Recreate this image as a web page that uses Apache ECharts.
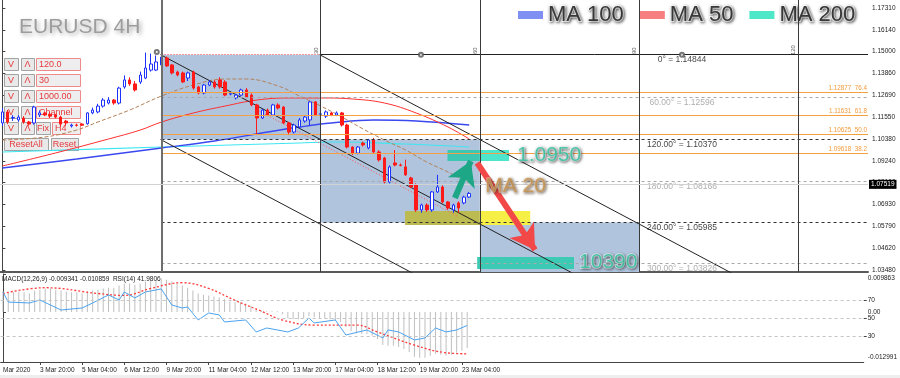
<!DOCTYPE html>
<html><head><meta charset="utf-8">
<script src="https://cdn.jsdelivr.net/npm/echarts@6/dist/echarts.min.js"></script>
<style>html,body{margin:0;padding:0;background:#fff}#c{width:900px;height:378px}</style>
</head><body><div id="c"></div>
<script>
// ---------- DATA ----------
const opens = [1.1124,1.1182,1.1150,1.1140,1.1150,1.1129,1.1124,1.1166,1.1177,1.1170,
1.1166,1.1155,1.1134,1.1108,1.1113,1.1118,1.1120,1.1177,1.1182,1.1213,
1.1229,1.1245,1.1229,1.1314,1.1351,1.1330,1.1340,1.1361,1.1403,1.1403,
1.1430,1.1467,1.1430,1.1393,1.1388,1.1361,1.1393,1.1314,1.1282,1.1324,
1.1340,1.1351,1.1340,1.1276,1.1256,1.1271,1.1298,1.1271,1.1219,1.1150,
1.1192,1.1166,1.1219,1.1208,1.1124,1.1076,1.1103,1.1134,1.1140,1.1235,
1.1170,1.1160,1.1177,1.1166,1.1177,1.1113,1.0997,1.0965,1.1018,1.0992,
1.1034,1.0971,1.0939,1.0812,1.0913,1.0902,1.0892,1.0834,1.0797,1.0665,
1.0691,1.0665,1.0760,1.0786,1.0707,1.0665,1.0702,1.0702,1.0733];
const closes = [1.1182,1.1129,1.1153,1.1155,1.1129,1.1118,1.1208,1.1177,1.1166,1.1160,
1.1155,1.1118,1.1124,1.1113,1.1112,1.1112,1.1177,1.1192,1.1213,1.1245,
1.1245,1.1229,1.1308,1.1351,1.1330,1.1298,1.1377,1.1414,1.1435,1.1446,
1.1472,1.1425,1.1388,1.1377,1.1340,1.1388,1.1308,1.1282,1.1324,1.1340,
1.1314,1.1314,1.1271,1.1278,1.1271,1.1298,1.1261,1.1219,1.1150,1.1192,
1.1166,1.1219,1.1203,1.1124,1.1076,1.1113,1.1140,1.1155,1.1235,1.1166,
1.1172,1.1182,1.1166,1.1177,1.1113,1.0997,1.0965,1.0997,1.1008,1.1034,
1.0971,1.0929,1.0812,1.0892,1.0902,1.0900,1.0850,1.0786,1.0665,1.0691,
1.0665,1.0760,1.0786,1.0707,1.0675,1.0691,1.0675,1.0733,1.07519];
const lows = [1.1108,1.1118,1.1135,1.1130,1.1120,1.1110,1.1115,1.1155,1.1160,1.1150,
1.1148,1.1105,1.1110,1.1100,1.1105,1.1108,1.1115,1.1170,1.1175,1.1205,
1.1222,1.1220,1.1222,1.1305,1.1320,1.1290,1.1330,1.1355,1.1395,1.1398,
1.1420,1.1420,1.1380,1.1370,1.1335,1.1345,1.1300,1.1275,1.1275,1.1318,
1.1305,1.1305,1.1265,1.1270,1.1248,1.1265,1.1255,1.1212,1.1060,1.1145,
1.1160,1.1160,1.1195,1.1118,1.1060,1.1068,1.1095,1.1125,1.1110,1.1160,
1.1160,1.1150,1.1160,1.1160,1.1105,1.0990,1.0955,1.0958,1.1000,1.0985,
1.0965,1.0920,1.0805,1.0805,1.0895,1.0895,1.0845,1.0780,1.0655,1.0650,
1.0655,1.0655,1.0755,1.0700,1.0665,1.0650,1.0650,1.0695,1.0728];
const highs = [1.1203,1.1192,1.1165,1.1165,1.1160,1.1135,1.1215,1.1190,1.1185,1.1180,
1.1172,1.1162,1.1140,1.1120,1.1120,1.1122,1.1180,1.1205,1.1225,1.1255,
1.1260,1.1250,1.1315,1.1375,1.1365,1.1345,1.1395,1.1495,1.1490,1.1480,
1.14844,1.1475,1.1435,1.1400,1.1395,1.1395,1.1400,1.1320,1.1330,1.1350,
1.1350,1.1365,1.1350,1.1285,1.1278,1.1305,1.1308,1.1280,1.1225,1.1198,
1.1200,1.1225,1.1228,1.1213,1.1130,1.1120,1.1150,1.1165,1.1240,1.1240,
1.1180,1.1190,1.1182,1.1185,1.1182,1.1120,1.1000,1.1002,1.1025,1.1040,
1.1045,1.0980,1.0945,1.0900,1.0981,1.0910,1.0930,1.0840,1.0805,1.0698,
1.0700,1.0765,1.0850,1.0795,1.0712,1.0698,1.0710,1.0740,1.0760];

// moving averages read at sample bars
const ma20Bars = [0,8,14,18,24,30,36,42,46,52,56,60,64,68,72,76,80,84,88];
const ma20Vals = [1.10340,1.10498,1.10868,1.11290,1.11923,1.12662,1.13243,1.13559,1.13559,1.13190,1.12662,1.12134,1.11554,1.10921,1.10340,1.09813,1.09179,1.08651,1.08071];
const ma50Bars = [0,10,20,26,30,36,42,48,54,60,66,72,78,84,88];
const ma50Vals = [1.08968,1.09654,1.10393,1.10867,1.11290,1.11765,1.12134,1.12451,1.12557,1.12557,1.12504,1.12293,1.11765,1.11026,1.10393];
const ma100Bars = [0,14,30,40,50,56,62,70,78,88];
const ma100Vals = [1.08863,1.09338,1.09918,1.10287,1.10762,1.11026,1.11237,1.11396,1.11343,1.11132];
const ma200Bars = [0,30,56,62,76,88];
const ma200Vals = [1.09707,1.09971,1.10182,1.10235,1.10129,1.09971];

// channel lines [bar, price] endpoints
const channelA = [[29.8,1.14844],[110,1.02942]];
const channelB = [[59.8,1.14844],[140,1.02942]];
const channelC = [[29.8,1.10370],[80,1.02920]];
const channelRed = [[48,1.1193],[86,1.0629]];

// levels
const fibPrices = [1.12877,1.11631,1.10625,1.09618];
const fibLevels = ['76.4','61.8','50.0','38.2'];
const gannPrices = [1.14844,1.12596,1.10370,1.08166,1.05985,1.03826];
const gannAngles = ['0°','60.00°','120.00°','180.00°','240.00°','300.00°'];
const gannBars = [30,60,90,120,150];
const gannBarLabels = ['','30','60','90','120'];
const lastPrice = 1.07519;

// MACD / RSI panel
const macdHist = [0.0053,0.0051,0.0051,0.0053,0.0051,0.0048,0.0056,0.0058,0.0061,0.0061,
0.0058,0.0056,0.0053,0.0051,0.0051,0.0048,0.0053,0.0056,0.0058,0.0061,
0.0063,0.0063,0.0069,0.0074,0.0074,0.0071,0.0074,0.0079,0.0081,0.0084,
0.0087,0.0084,0.0079,0.0074,0.0069,0.0063,0.0056,0.0048,0.0045,0.0043,
0.0040,0.0038,0.0033,0.0027,0.0025,0.0025,0.0022,0.0017,0.0007,0.0004,
0.0002,0.0002,0.0002,-0.0006,-0.0016,-0.0019,-0.0019,-0.0016,-0.0011,-0.0014,
-0.0016,-0.0016,-0.0019,-0.0021,-0.0026,-0.0039,-0.0050,-0.0055,-0.0057,-0.0057,
-0.0062,-0.0070,-0.0086,-0.0088,-0.0088,-0.0091,-0.0096,-0.0104,-0.0116,-0.0119,
-0.0119,-0.0114,-0.0109,-0.0111,-0.0114,-0.0111,-0.0106,-0.0101,-0.009341];
const signalBars = [0,8,18,23,28,34,39,44,49,53,59,67,71,78,84,88];
const signalVals = [0.0048,0.0063,0.0048,0.0043,0.0061,0.0076,0.0061,0.0030,0.0002,-0.0021,-0.0034,-0.0034,-0.0052,-0.0086,-0.0106,-0.010859];
const rsiBars = [0,1,5,7,11,15,17,20,22,23,25,27,30,32,34,35,37,39,41,42,46,48,50,54,56,58,59,63,65,69,72,73,75,78,80,82,84,86,88];
const rsiVals = [79.2,68.0,67.0,70.3,59.2,61.4,67.0,75.9,70.3,79.2,72.6,79.2,82.6,64.8,61.4,62.6,48.1,55.9,53.7,45.9,48.1,34.8,39.2,34.8,39.2,50.3,44.8,48.1,31.4,37.0,28.1,37.0,34.8,25.9,28.1,39.2,34.8,37.0,41.98];
const rsiLevels = [70,50,30];

// axis tick labels
const priceTicks = [1.17310,1.16140,1.15000,1.13860,1.12690,1.11550,1.10380,1.09240,1.08100,1.06930,1.05790,1.04620,1.03480];
const timeLabelBars = [0,7,15,23,31,39,47,55,63,71,79,87];
const timeLabels = ['Mar 2020','3 Mar 20:00','5 Mar 04:00','6 Mar 12:00','9 Mar 20:00','11 Mar 04:00','12 Mar 12:00','13 Mar 20:00','17 Mar 04:00','18 Mar 12:00','19 Mar 20:00','23 Mar 04:00'];
const macdTicks = [0.009863,0,-0.012991];
const macdTickLabels = ['0.009863','0.00','-0.012991'];
const macdLegendText = 'MACD(12,26,9) -0.009341 -0.010859  RSI(14) 41.9806';

// annotations (bar, price)
const notes = [
  {text:'1.0950', at:[97,1.0953], color:'#2cc29f'},
  {text:'10390', at:[108.7,1.0390], color:'#2cc29f'},
  {text:'MA 20', at:[91,1.0791], color:'#c8914b'}
];
const arrows = [
  {from:[85.3,1.0728], to:[88.3,1.0923], color:'#1ea787'},
  {from:[89.5,1.0913], to:[100.4,1.0454], color:'#f24848'}
];
const gannBoxes = [[30,1.14844,60,1.10370],[60,1.10370,90,1.05985],[90,1.05985,120,1.03375]];
const bands = [
  {x1:75.9,y1:1.06594,x2:90,y2:1.05855,color:'#bcbb52'},
  {x1:90,y1:1.06594,x2:99.5,y2:1.05855,color:'#f6ef45'}
];
const tealBoxes = [
  {x1:83.9,y1:1.09813,x2:90,y2:1.09232,color:'#3dc6b2'},
  {x1:90,y1:1.09813,x2:95.5,y2:1.09232,color:'#4de6cc'},
  {x1:89.5,y1:1.04166,x2:107.75,y2:1.03533,color:'#3dcab4'}
];
const anchors = [[29.1,1.1498],[78.9,1.14844],[128.1,1.14844]];

// ---------- LAYOUT ----------
const F = "'Liberation Sans', Arial, Helvetica, sans-serif";
const XMIN = -0.45, XMAX = 163.17;
const YMIN = 1.03375, YMAX = 1.17728;
const pairs = (b, v) => b.map((x, k) => [x, v[k]]);
const near = (a, b) => Math.abs(a - b) < 1e-7;

const candleData = opens.map((o, i) => [i, o, closes[i], lows[i], highs[i]]);

const levelLines = [];
levelLines.push([{coord:[30,gannPrices[0]], lineStyle:{color:'#ff4040', type:[1,2], width:1}}, {coord:[60,gannPrices[0]]}]);
levelLines.push([{coord:[60,gannPrices[0]], lineStyle:{color:'#222', type:'solid', width:1}}, {coord:[XMAX,gannPrices[0]]}]);
gannPrices.slice(1).forEach((p, k) => {
  const dark = (k % 2 === 1);
  levelLines.push([{coord:[30,p], lineStyle:{color: dark ? '#333' : '#a8a8a8', type:[3,3], width:1}}, {coord:[XMAX,p]}]);
});
fibPrices.forEach((p, k) => {
  levelLines.push([{coord:[30,p], lineStyle:{color:'#f5a043', type:'solid', width:1},
    label:{show:true, position:'insideEndTop', distance:1, formatter: p.toFixed(5) + '  ' + fibLevels[k], color:'#f39a3a', fontSize:6.3, fontFamily:F}},
    {coord:[XMAX,p]}]);
});
gannBars.forEach((b, k) => {
  levelLines.push({xAxis:b, lineStyle:{color: k === 0 ? '#6e6e6e' : '#3a3a3a', width: k === 0 ? 2 : 1, type:'solid'}});
});
levelLines.push({yAxis:lastPrice, lineStyle:{color:'#d2d2d2', width:1, type:'solid'},
  label:{show:true, position:'end', distance:1, formatter:lastPrice.toFixed(5), backgroundColor:'#000', color:'#fff', fontSize:6.5, padding:[1,2,1,2], fontFamily:F}});

const rectArea = (x1,y1,x2,y2,color) => [{coord:[x1,y1], itemStyle:{color, opacity:1}}, {coord:[x2,y2]}];

// graphic buttons
const graphic = [];
function gRect(x,y,w,h,fill,stroke){graphic.push({type:'rect', z:2, shape:{x:x+0.5,y:y+0.5,width:w,height:h}, style:{fill:fill, stroke:stroke, lineWidth:1}});}
function gText(x,y,t,al){graphic.push({type:'text', z:2, style:{x:x,y:y,text:t,fill:'#e5383b',font:'9px '+F,textAlign:al,textVerticalAlign:'middle',align:al,verticalAlign:'middle'}});}
const btnFields = ['120.0','30','1000.00','Channel'];
for (let k = 0; k < 5; k++) {
  const y = 58 + k*16;
  gRect(4,y,14,12,'#e9e9e9','#a3a3a3'); gText(11,y+6.5,'V','center');
  gRect(21,y,13,12,'#e9e9e9','#a3a3a3'); gText(27.5,y+6.5,'Λ','center');
  if (k < 4) { gRect(36,y,44,12,'#eeeeee','#f08a8a'); gText(39,y+6.5,btnFields[k],'left'); }
  else { gRect(36,y,14,12,'#e9e9e9','#a3a3a3'); gText(43,y+6.5,'Fix','center');
         gRect(52,y,28,12,'#eeeeee','#f08a8a'); gText(55,y+6.5,'H4','left'); }
}
gRect(4,138,44,12,'#e9e9e9','#a3a3a3'); gText(26,144.5,'ResetAll','center');
gRect(51,138,27,12,'#e9e9e9','#a3a3a3'); gText(64.5,144.5,'Reset','center');
graphic.push({type:'rect', z:1, shape:{x:0,y:375,width:900,height:3}, style:{fill:'#eeeeee'}});

const bigText = {fontSize:21, fontFamily:F, textBorderColor:'#ffffff', textBorderWidth:1.5,
  textShadowColor:'rgba(0,0,0,0.5)', textShadowBlur:3, textShadowOffsetX:1, textShadowOffsetY:1};

const option = {
  animation:false,
  backgroundColor:'#ffffff',
  title:[
    {text:'EURUSD 4H', left:19, top:17, padding:0, z:10,
     textStyle:{fontSize:21, fontWeight:'normal', color:'#9d9d9d', fontFamily:F,
       textShadowColor:'rgba(0,0,0,0.35)', textShadowBlur:4, textShadowOffsetX:2, textShadowOffsetY:2}},
    {text:macdLegendText, left:2, top:276, padding:0,
     textStyle:{fontSize:6.5, fontWeight:'normal', color:'#222', fontFamily:F}}
  ],
  legend:{top:3, left:518, padding:0, itemWidth:25, itemHeight:8, itemGap:15, icon:'rect', selectedMode:false,
    data:[{name:'MA 100', itemStyle:{color:'#7f8ff2'}},{name:'MA 50', itemStyle:{color:'#f77f7f'}},{name:'MA 200', itemStyle:{color:'#4ee8c8'}}],
    textStyle:Object.assign({}, bigText, {fontSize:22, color:'#383838', textBorderWidth:2})},
  graphic: graphic,
  grid:[
    {left:0, top:0, width:868, height:272},
    {left:0, top:274, width:868, height:88}
  ],
  xAxis:[
    {gridIndex:0, type:'value', min:XMIN, max:XMAX, axisLine:{show:true, onZero:false, lineStyle:{color:'#5a5a5a', width:2}},
     axisTick:{show:false}, axisLabel:{show:false}, splitLine:{show:false}},
    {gridIndex:1, type:'value', min:XMIN, max:XMAX, axisLine:{show:true, onZero:false, lineStyle:{color:'#444', width:1}},
     axisTick:{show:true, customValues:timeLabelBars.slice(1), length:3, lineStyle:{color:'#444'}},
     axisLabel:{show:true, customValues:timeLabelBars, align:'left', margin:5, fontSize:6.5, color:'#222', fontFamily:F,
       formatter:(v)=>{const k = timeLabelBars.findIndex(b=>Math.abs(b-v)<0.01); return k>=0 ? timeLabels[k] : '';}},
     splitLine:{show:false}}
  ],
  yAxis:[
    {gridIndex:0, type:'value', position:'right', min:YMIN, max:YMAX,
     axisLine:{show:true, lineStyle:{color:'#444'}},
     axisTick:{show:true, customValues:priceTicks, length:3, lineStyle:{color:'#444'}},
     axisLabel:{customValues:priceTicks, formatter:(v)=>v.toFixed(5), fontSize:6.5, color:'#222', margin:4, fontFamily:F},
     splitLine:{show:false}},
    {gridIndex:1, type:'value', position:'right', min:-0.012991, max:0.009863,
     axisLine:{show:true, lineStyle:{color:'#444'}},
     axisTick:{show:true, customValues:macdTicks, length:3, lineStyle:{color:'#444'}},
     axisLabel:{customValues:macdTicks, fontSize:6.5, color:'#222', margin:4, fontFamily:F,
       formatter:(v)=>{ if (near(v,macdTicks[0])) return '{t|'+macdTickLabels[0]+'}';
                        if (near(v,macdTicks[2])) return '{b|'+macdTickLabels[2]+'}';
                        return macdTickLabels[1]; },
       rich:{t:{padding:[9,0,0,0], fontSize:6.5, color:'#222', fontFamily:F}, b:{padding:[0,0,9,0], fontSize:6.5, color:'#222', fontFamily:F}}},
     splitLine:{show:false}},
    {gridIndex:1, type:'value', position:'right', min:1.4, max:99.2,
     axisLine:{show:false},
     axisTick:{show:true, customValues:rsiLevels, length:3, lineStyle:{color:'#444'}},
     axisLabel:{customValues:rsiLevels, fontSize:6.5, color:'#222', margin:4, fontFamily:F},
     splitLine:{show:false}}
  ],
  series:[
    {name:'bg', type:'line', xAxisIndex:0, yAxisIndex:0, data:[], z:1, silent:true,
     markArea:{silent:true, label:{show:false},
       data: gannBoxes.map(b=>rectArea(b[0],b[1],b[2],b[3],'#b0c4de')).concat(bands.map(b=>rectArea(b.x1,b.y1,b.x2,b.y2,b.color)))}},
    {name:'levels', type:'line', xAxisIndex:0, yAxisIndex:0, data:[], z:2, silent:true,
     markLine:{silent:true, symbol:['none','none'], label:{show:false}, data: levelLines}},
    {name:'MA 200', type:'line', xAxisIndex:0, yAxisIndex:0, data:pairs(ma200Bars,ma200Vals), smooth:0.4, symbol:'none', z:3,
     lineStyle:{color:'#3ee6f2', width:1.2}, itemStyle:{color:'#3ee6f2'}},
    {name:'MA 100', type:'line', xAxisIndex:0, yAxisIndex:0, data:pairs(ma100Bars,ma100Vals), smooth:0.4, symbol:'none', z:3,
     lineStyle:{color:'#3a48f0', width:1.4}, itemStyle:{color:'#3a48f0'}},
    {name:'MA 50', type:'line', xAxisIndex:0, yAxisIndex:0, data:pairs(ma50Bars,ma50Vals), smooth:0.4, symbol:'none', z:3,
     lineStyle:{color:'#ff3030', width:1}, itemStyle:{color:'#ff3030'}},
    {name:'MA 20', type:'line', xAxisIndex:0, yAxisIndex:0, data:pairs(ma20Bars,ma20Vals), smooth:0.4, symbol:'none', z:3,
     lineStyle:{color:'#b4825a', width:1, type:[4,2]}, itemStyle:{color:'#b4825a'}},
    {name:'chA', type:'line', xAxisIndex:0, yAxisIndex:0, data:channelA, symbol:'none', z:3, lineStyle:{color:'#222', width:1}},
    {name:'chB', type:'line', xAxisIndex:0, yAxisIndex:0, data:channelB, symbol:'none', z:3, lineStyle:{color:'#222', width:1}},
    {name:'chC', type:'line', xAxisIndex:0, yAxisIndex:0, data:channelC, symbol:'none', z:3, lineStyle:{color:'#222', width:1}},
    {name:'chR', type:'line', xAxisIndex:0, yAxisIndex:0, data:channelRed, symbol:'none', z:3, lineStyle:{color:'#ff5050', width:1, type:[1,2]}},
    {name:'EURUSD', type:'candlestick', xAxisIndex:0, yAxisIndex:0, data:candleData, encode:{x:0, y:[1,2,3,4]}, barWidth:3, z:4, silent:true,
     itemStyle:{color:'#ffffff', color0:'#ff1a1a', borderColor:'#1e32ff', borderColor0:'#ff1a1a', borderWidth:1}},
    {name:'boxes', type:'line', xAxisIndex:0, yAxisIndex:0, data:[], z:5, silent:true,
     markArea:{silent:true, label:{show:false}, data: tealBoxes.map(b=>rectArea(b.x1,b.y1,b.x2,b.y2,b.color))}},
    {name:'arrows', type:'line', xAxisIndex:0, yAxisIndex:0, data:[], z:6, silent:true,
     markLine:{silent:true, symbol:['none','arrow'], symbolSize:[22,24], label:{show:false},
       data: arrows.map(a=>[{coord:a.from, lineStyle:{color:a.color, width:6, type:'solid'}, itemStyle:{color:a.color}}, {coord:a.to}])}},
    {name:'gannLabels', type:'scatter', xAxisIndex:0, yAxisIndex:0, symbolSize:0, z:3, silent:true,
     data: gannPrices.map((p,k)=>({value:[128.1,p], label:{show:true, position:'bottom', distance:1, fontSize:8.5, fontFamily:F,
       color: k%2===1 ? '#9a9a9a' : '#111', formatter: gannAngles[k] + ' = ' + p.toFixed(5)}}))},
    {name:'vLabels', type:'scatter', xAxisIndex:0, yAxisIndex:0, symbolSize:0, z:3, silent:true,
     data: gannBars.map((b,k)=>({value:[b-0.9, gannPrices[0] + 0.0021 + 0.0003*(gannBarLabels[k].length-2)],
       label:{show:gannBarLabels[k] !== '', position:'inside', rotate:90, fontSize:6, color:'#333', fontFamily:F, formatter:gannBarLabels[k]}}))},
    {name:'anchors', type:'scatter', xAxisIndex:0, yAxisIndex:0, symbol:'emptyCircle', symbolSize:4, z:6, silent:true,
     itemStyle:{color:'#555', borderColor:'#555', borderWidth:1}, data: anchors},
    {name:'notes', type:'scatter', xAxisIndex:0, yAxisIndex:0, symbolSize:0, z:7, silent:true,
     data: notes.map(n=>({value:n.at, label:Object.assign({show:true, position:'right', distance:0, formatter:n.text, color:n.color}, bigText,
       n.text==='MA 20' ? {textBorderColor:'#f4e6d0', textBorderWidth:1, textShadowColor:'rgba(60,40,20,0.7)'} : {})}))},
    {name:'MACD', type:'bar', xAxisIndex:1, yAxisIndex:1, data: macdHist.map((v,i)=>[i,v]), barWidth:1, silent:true,
     itemStyle:{color:'#bfbfbf'}},
    {name:'Signal', type:'line', xAxisIndex:1, yAxisIndex:1, data: pairs(signalBars,signalVals), smooth:0.4, symbol:'none', silent:true,
     lineStyle:{color:'#ff3a3a', width:1.3, type:[2,2]}},
    {name:'RSI', type:'line', xAxisIndex:1, yAxisIndex:2, data: pairs(rsiBars,rsiVals), symbol:'none', silent:true,
     lineStyle:{color:'#4aa3f0', width:1},
     markLine:{silent:true, symbol:['none','none'], label:{show:false}, lineStyle:{color:'#c4c4c4', type:[3,3], width:1},
       data: rsiLevels.map(v=>({yAxis:v}))}}
  ]
};
const chart = echarts.init(document.getElementById('c'));
chart.setOption(option);
</script>
</body></html>
